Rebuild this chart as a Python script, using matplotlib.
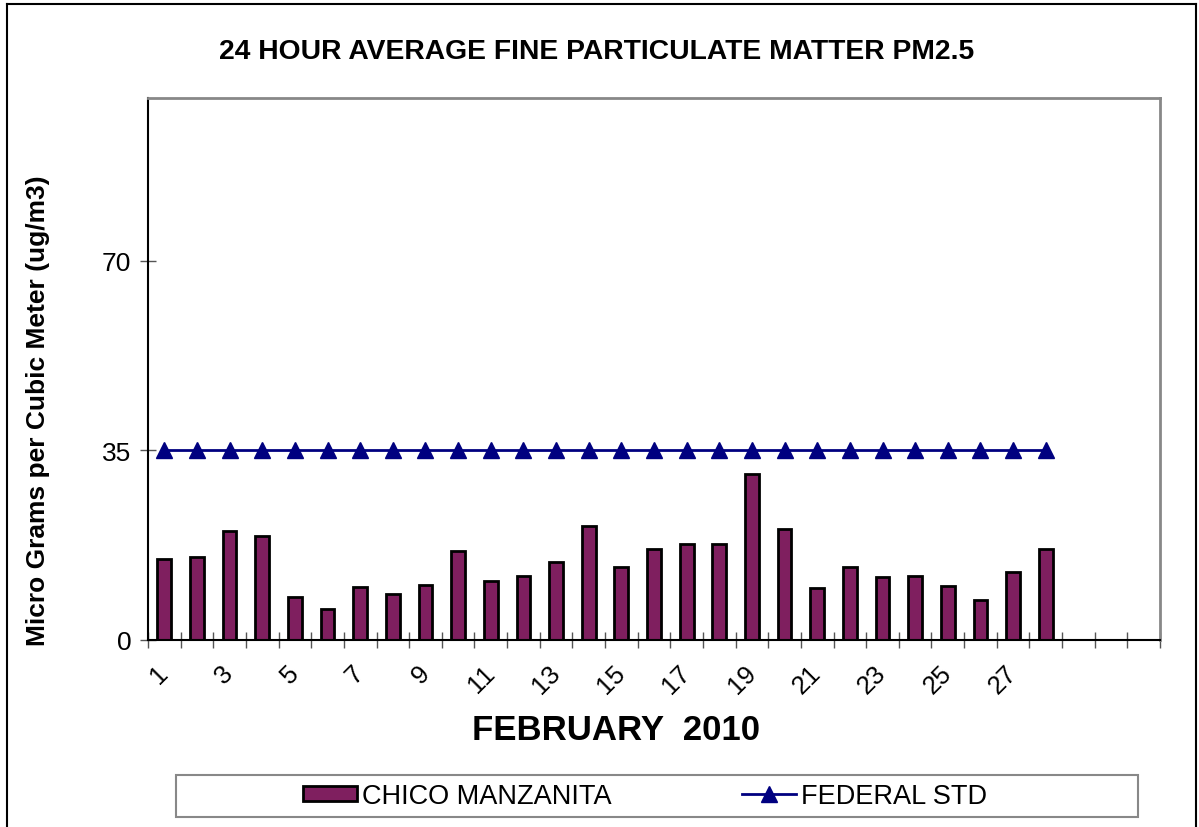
import matplotlib.pyplot as plt
from matplotlib.lines import Line2D
from matplotlib.patches import Rectangle

plt.rcParams['font.family'] = ['Liberation Sans', 'DejaVu Sans']

# February 2010 daily values (days 1-28), axis runs to 31 slots
days = list(range(1, 29))
pm25 = [15.0, 15.4, 20.1, 19.1, 8.0, 5.7, 9.8, 8.5, 10.2, 16.5,
        10.9, 11.9, 14.4, 21.0, 13.4, 16.7, 17.7, 17.8, 30.6, 20.5,
        9.6, 13.4, 11.7, 11.9, 9.9, 7.3, 12.6, 16.7]
federal_std = [35] * 28
n_slots = 31
label_days = list(range(1, 28, 2))
y_ticks = [0, 35, 70]

W, H = 1199, 828
fig = plt.figure(figsize=(W / 100, H / 100), dpi=100)
ax = fig.add_axes([148 / W, 1 - 641 / H, (1160 - 148) / W, (641 - 99) / H])

bars = ax.bar(days, pm25, width=0.42, color='#7f1f5f', edgecolor='black',
              linewidth=2, label='CHICO MANZANITA', zorder=2)
line, = ax.plot(days, federal_std, color='#000080', lw=2, marker='^',
                markersize=11, label='FEDERAL STD', zorder=3)

ax.set_xlim(0.5, n_slots + 0.5)
ax.set_ylim(0, 100)

# category boundary ticks
ax.set_xticks([i + 0.5 for i in range(0, n_slots + 1)], minor=True)
ax.tick_params(axis='x', which='minor', direction='inout', length=12,
               width=1, color='#555555')
ax.set_xticks(label_days, [str(d) for d in label_days])
ax.tick_params(axis='x', which='major', length=0, pad=21, labelsize=18.5)
for t in ax.get_xticklabels():
    t.set_rotation(45)
    t.set_ha('right')
    t.set_va('center')
    t.set_rotation_mode('anchor')

ax.set_yticks(y_ticks)
ax.tick_params(axis='y', direction='inout', length=12, width=1,
               color='#555555', labelsize=19, pad=6)

ax.spines['left'].set_linewidth(1.5)
ax.spines['bottom'].set_linewidth(1.5)
ax.spines['top'].set_color('#888888')
ax.spines['right'].set_color('#888888')
ax.spines['top'].set_linewidth(2)
ax.spines['right'].set_linewidth(2)

fig.text(597 / W, 1 - 52 / H, '24 HOUR AVERAGE FINE PARTICULATE MATTER PM2.5',
         ha='center', va='center', fontsize=20.3, fontweight='bold')
fig.text(616 / W, 1 - 731 / H, 'FEBRUARY  2010', ha='center', va='center',
         fontsize=25, fontweight='bold')
fig.text(38 / W, 1 - 411 / H, 'Micro Grams per Cubic Meter (ug/m3)',
         ha='center', va='center', rotation=90, fontsize=19, fontweight='bold')

# legend box
fig.add_artist(Rectangle((176 / W, 1 - 818 / H), (1138 - 176) / W, 42 / H,
                         transform=fig.transFigure, fill=False,
                         edgecolor='#888888', lw=1.5))
fig.legend(handles=[bars, line], loc='center',
           bbox_to_anchor=(645 / W, 1 - 797 / H), ncol=2, frameon=False,
           fontsize=19.5, handlelength=2.0, handleheight=0.5,
           handletextpad=0.2, columnspacing=4.8)

# outer chart frame
for xs, ys in [([7, 1196], [5, 5]), ([1196, 1196], [5, 828]), ([7, 7], [5, 828])]:
    fig.add_artist(Line2D([x / W for x in xs], [1 - y / H for y in ys],
                          transform=fig.transFigure, color='black', lw=1.5))

fig.savefig('out.png', dpi=100)
plt.close()
